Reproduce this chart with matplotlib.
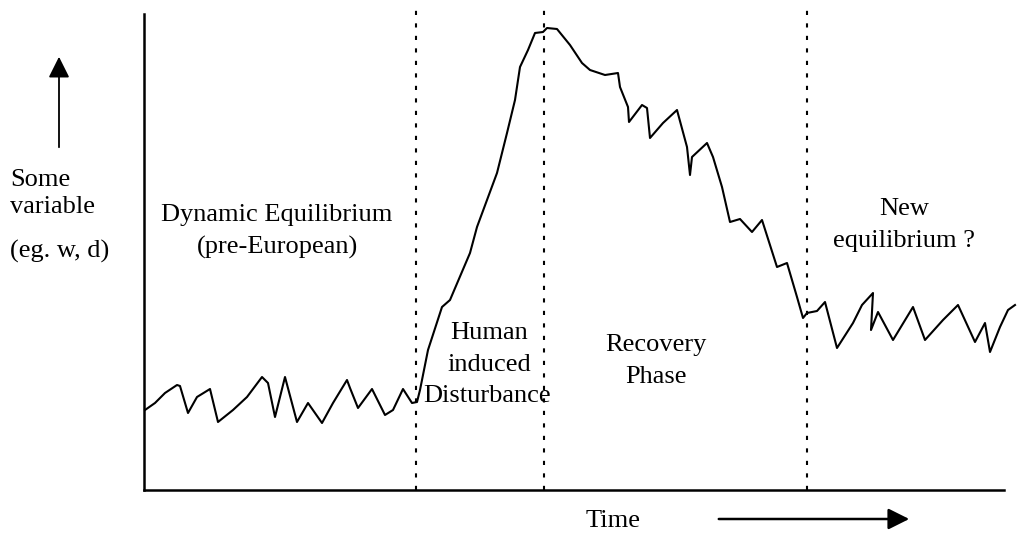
import matplotlib
matplotlib.use("Agg")
import matplotlib.pyplot as plt

W, H = 1017, 533

# Time (arbitrary units) and value of "some variable"
time = [1, 11, 21, 33, 36, 44, 53, 66, 74, 89, 103, 118, 124, 131, 141, 153, 164, 178, 189,
        203, 206, 214, 228, 241, 249, 259, 268, 273, 276, 284, 298, 306, 326, 333, 353, 363,
        371, 376, 384, 391, 399, 403, 413, 426, 438, 446, 461, 474, 476, 484, 485, 498, 503,
        506, 519, 533, 543, 546, 548, 563, 569, 578, 586, 596, 608, 618, 633, 643, 653, 659,
        663, 673, 681, 693, 709, 718, 729, 727, 734, 749, 769, 781, 799, 814, 831, 841, 846,
        856, 864, 871]
value = [80, 87, 97, 105, 104, 77, 93, 101, 68, 80, 93, 113, 107, 73, 113, 68, 87, 67, 87,
         110, 102, 82, 101, 75, 80, 101, 87, 88, 100, 140, 183, 190, 237, 263, 317, 357,
         390, 423, 440, 457, 458, 462, 461, 445, 427, 420, 415, 417, 403, 383, 368, 385, 382,
         352, 367, 380, 343, 315, 333, 347, 333, 303, 268, 271, 258, 270, 223, 227, 193, 172,
         177, 179, 188, 142, 167, 185, 197, 160, 178, 150, 183, 150, 170, 185, 148, 167, 138,
         163, 180, 185]

phase_bounds = [272, 400, 663]

fig = plt.figure(figsize=(W / 100, H / 100), dpi=100)
fig.patch.set_facecolor("white")
left, right, top, bottom = 144, 1004, 14, 490
ax = fig.add_axes([left / W, 1 - bottom / H, (right - left) / W, (bottom - top) / H])
ax.set_xlim(0, right - left)
ax.set_ylim(0, bottom - top)
for s in ["top", "right"]:
    ax.spines[s].set_visible(False)
for s in ["left", "bottom"]:
    ax.spines[s].set_linewidth(1.8)
    ax.spines[s].set_color("black")
ax.set_xticks([])
ax.set_yticks([])

ax.plot(time, value, color="black", lw=1.5, clip_on=False, solid_joinstyle="round")

for xb in phase_bounds:
    ax.plot([xb, xb], [0, 480], color="black", lw=1.5, linestyle=(0, (2, 4)), clip_on=False)

serif = ["Liberation Serif", "DejaVu Serif"]
fs = 19


def ftxt(x, y, s, **kw):
    fig.text(x / W, 1 - y / H, s, ha="center", va="center", family=serif, fontsize=fs, **kw)


ftxt(277, 215, "Dynamic Equilibrium")
ftxt(277, 247, "(pre-European)")
ftxt(489, 333, "Human")
ftxt(489, 365, "induced")
ftxt(487, 396, "Disturbance")
ftxt(656, 345, "Recovery")
ftxt(656, 377, "Phase")
ftxt(904, 209, "New")
ftxt(904, 241, "equilibrium ?")
fig.text(10 / W, 1 - 180 / H, "Some", ha="left", va="center", family=serif, fontsize=fs)
fig.text(10 / W, 1 - 207 / H, "variable", ha="left", va="center", family=serif, fontsize=fs)
fig.text(10 / W, 1 - 251 / H, "(eg. w, d)", ha="left", va="center", family=serif, fontsize=fs)
ftxt(613, 521, "Time")

# arrows
fig.patches.append(matplotlib.patches.FancyArrowPatch(
    (59 / W, 1 - 150 / H), (59 / W, 1 - 54 / H), transform=fig.transFigure,
    arrowstyle="-|>,head_length=8,head_width=4", mutation_scale=1.6, color="black", lw=1.3))
fig.patches.append(matplotlib.patches.FancyArrowPatch(
    (716 / W, 1 - 519 / H), (912 / W, 1 - 519 / H), transform=fig.transFigure,
    arrowstyle="-|>,head_length=8,head_width=4", mutation_scale=1.6, color="black", lw=1.8))

fig.savefig("out.png", dpi=100, facecolor="white")
